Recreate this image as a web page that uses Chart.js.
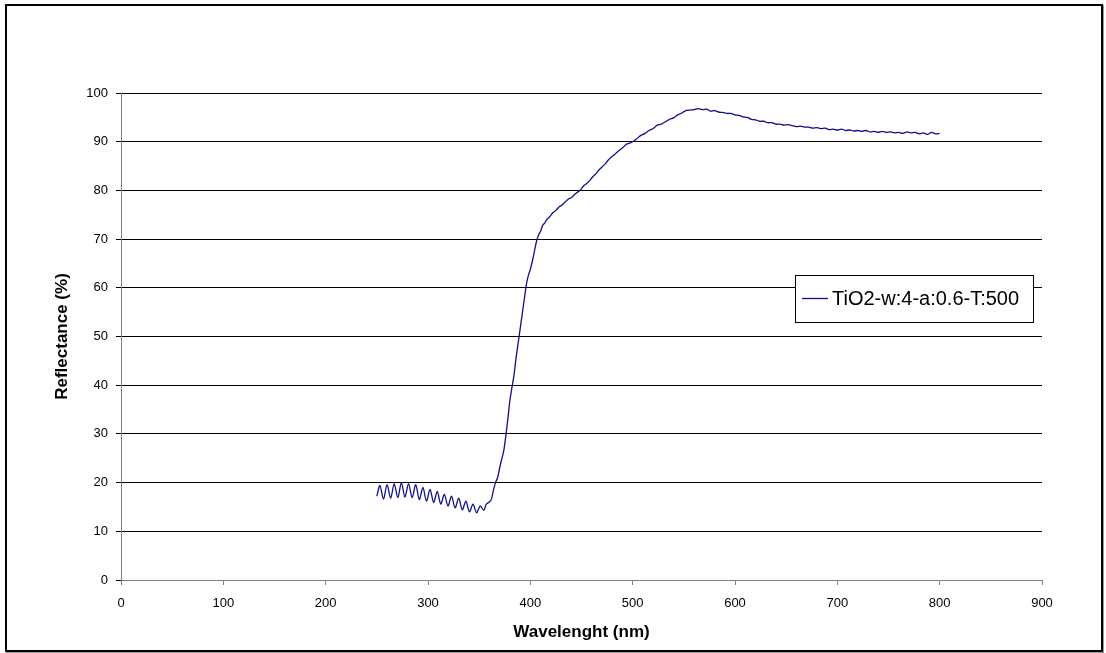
<!DOCTYPE html>
<html>
<head>
<meta charset="utf-8">
<script src="https://cdn.jsdelivr.net/npm/chart.js"></script>
<style>
    html, body { margin: 0; padding: 0; background: #fff; }
    #wrap { position: relative; width: 1106px; height: 653px; }
    #frame {
        position: absolute; left: 5px; top: 4px; width: 1094px; height: 644px;
        border: 2px solid #000; box-shadow: 1px 1px 0 #999;
        pointer-events: none;
    }
</style>
</head>
<body>
<div id="wrap">
    <canvas id="chart" width="1106" height="653"></canvas>
    <div id="frame"></div>
</div>
<script>
// wavelength (nm) and reflectance (%)
const wavelength = [
    250, 253, 256.5, 260, 263.5, 267, 270.5, 274, 277.5, 281, 284.5, 288, 291.5, 295, 298.5,
    302, 305.5, 309, 312.5, 316, 319.5, 323, 326.5, 330, 333.5, 337, 340.5, 344, 347.5, 351, 354.5,
    357, 360, 362, 364, 366, 368, 370, 372, 374, 376, 378, 380, 382, 384, 386, 388, 390, 392, 394,
    396, 398, 400, 402, 404, 406, 408, 410, 412, 414, 416, 419, 422, 425, 428, 431, 434, 437, 440,
    443, 446, 449, 452, 455, 458, 461, 464, 467, 470, 473, 476, 479, 482, 485, 488, 491, 494, 497,
    500, 504, 508, 512, 516, 520, 524, 528, 532, 536, 540, 544, 548, 552, 556, 560, 564, 568, 572,
    576, 580, 584, 588, 592, 596, 600, 604, 608, 612, 616, 620, 624, 628, 632, 636, 640, 644, 648,
    652, 656, 660, 664, 668, 672, 676, 680, 684, 688, 692, 696, 700, 704, 708, 712, 716, 720, 724,
    728, 732, 736, 740, 744, 748, 752, 756, 760, 764, 768, 772, 776, 780, 784, 788, 792, 796, 800
];
const reflectance = [
    17.2, 19.4, 16.6, 19.6, 16.8, 19.8, 16.9, 20.0, 17.0, 19.8, 16.9, 19.6, 16.5, 19.0, 16.2,
    18.6, 15.9, 18.2, 15.6, 17.6, 15.2, 17.2, 14.8, 16.8, 14.4, 16.2, 14.0, 15.6, 13.8, 15.2, 14.3,
    15.6, 16.0, 16.6, 18.5, 20.0, 21.0, 23.0, 24.8, 26.5, 29.5, 33.0, 36.8, 39.5, 42.0, 45.5, 48.5, 51.5, 54.5, 57.5,
    60.5, 62.5, 63.8, 65.5, 67.5, 69.5, 70.8, 71.6, 72.8, 73.3, 74.0, 74.6, 75.4, 75.9, 76.6, 77.0, 77.6, 78.2, 78.5,
    79.1, 79.6, 80.1, 80.9, 81.4, 82.0, 82.8, 83.4, 84.2, 84.8, 85.4, 86.2, 86.8, 87.3, 87.9, 88.4, 88.9, 89.5, 89.7,
    90.0, 90.6, 91.3, 91.7, 92.3, 92.7, 93.4, 93.6, 94.1, 94.6, 94.9, 95.5, 95.9, 96.4, 96.5, 96.6, 96.8, 96.6, 96.7,
    96.3, 96.4, 96.1, 96.0, 95.8, 95.8, 95.5, 95.4, 95.1, 95.0, 94.6, 94.5, 94.2, 94.2, 93.9, 93.9, 93.6, 93.6, 93.4,
    93.5, 93.3, 93.1, 93.2, 93.0, 93.0, 92.8, 92.9, 92.7, 92.8, 92.5, 92.6, 92.4, 92.6, 92.3, 92.4, 92.2, 92.3, 92.1,
    92.3, 92.0, 92.1, 91.9, 92.1, 91.9, 92.0, 91.8, 91.9, 91.7, 92.0, 91.8, 91.9, 91.6, 91.8, 91.5, 91.9, 91.6, 91.7
];
const seriesLabel = 'TiO2-w:4-a:0.6-T:500';
const xTitle = 'Wavelenght (nm)';
const yTitle = 'Reflectance (%)';

const points = wavelength.map((w, i) => ({ x: w, y: reflectance[i] }));

// legend box drawn inside the plot, like the original
const boxLegend = {
    id: 'boxLegend',
    afterDraw(chart) {
        const ctx = chart.ctx;
        const ds = chart.data.datasets[0];
        ctx.save();
        ctx.fillStyle = '#fff';
        ctx.fillRect(795.5, 275.5, 238, 47);
        ctx.strokeStyle = '#000';
        ctx.lineWidth = 1;
        ctx.strokeRect(795.5, 275.5, 238, 47);
        ctx.strokeStyle = ds.borderColor;
        ctx.lineWidth = 1.3;
        ctx.beginPath();
        ctx.moveTo(802, 298.5);
        ctx.lineTo(828, 298.5);
        ctx.stroke();
        ctx.fillStyle = '#000';
        ctx.font = '20px "Liberation Sans", Arial, sans-serif';
        ctx.textBaseline = 'middle';
        ctx.fillText(ds.label, 832, 299);
        ctx.restore();
    }
};

const tickFont = { family: '"Liberation Sans", Arial, sans-serif', size: 13 };
const titleFont = { family: '"Liberation Sans", Arial, sans-serif', size: 17, weight: 'bold' };

new Chart(document.getElementById('chart').getContext('2d'), {
    type: 'line',
    data: {
        datasets: [{
            label: seriesLabel,
            data: points,
            borderColor: '#10108a',
            borderWidth: 1.3,
            pointRadius: 0,
            tension: 0.3,
            fill: false
        }]
    },
    options: {
        responsive: false,
        animation: false,
        layout: { padding: { top: 93, right: 64, left: 20, bottom: 0 } },
        plugins: {
            legend: { display: false },
            tooltip: { enabled: false }
        },
        scales: {
            x: {
                type: 'linear',
                min: 0,
                max: 900,
                ticks: { stepSize: 100, color: '#000', font: tickFont, padding: 11, maxRotation: 0 },
                grid: { drawOnChartArea: false, tickLength: 5, color: '#808080' },
                border: { color: '#808080', width: 1 },
                title: { display: true, text: xTitle, color: '#000', font: titleFont, padding: { top: 0, bottom: 10 } },
                afterFit: (s) => { s.height = 73; }
            },
            y: {
                min: 0,
                max: 100,
                ticks: { stepSize: 10, color: '#000', font: tickFont, padding: 8 },
                grid: { color: '#000', tickLength: 5 },
                border: { color: '#808080', width: 1 },
                title: { display: true, text: yTitle, color: '#000', font: titleFont, padding: { top: 32, bottom: 0 } },
                afterFit: (s) => { s.width = 101; }
            }
        }
    },
    plugins: [boxLegend]
});
</script>
</body>
</html>
